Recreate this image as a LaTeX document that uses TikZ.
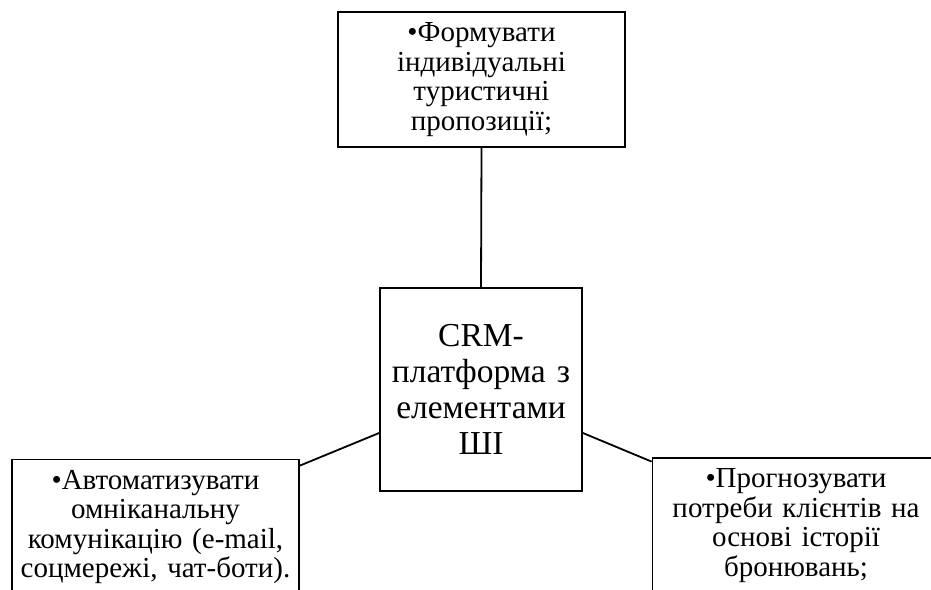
\documentclass[tikz,border=0pt]{standalone}
\usepackage{fontspec}
\setmainfont{Liberation Serif}
\usetikzlibrary{calc}
\tikzset{
  boxsmall/.style={draw=black, line width=1.8pt, minimum width=287pt, minimum height=135pt,
    text width=280pt, align=center, inner sep=0pt, font=\fontsize{29}{29.6}\selectfont},
  boxbig/.style={draw=black, line width=1.8pt, minimum width=202pt, minimum height=203pt,
    text width=198pt, align=center, inner sep=0pt, font=\fontsize{33.5}{36}\selectfont},
  link/.style={draw=black, line width=1.8pt}
}
\begin{document}
\begin{tikzpicture}[x=1pt,y=-1pt]
\useasboundingbox (0,0) rectangle (931,589);
\clip (0,0) rectangle (931,589);
\fill[white] (0,0) rectangle (931,589);
\node[boxsmall] (top) at (481.5,79.5) {•Формувати\\індивідуальні\\туристичні\\пропозиції;};
\node[boxbig] (crm) at (481,389.5) {CRM-\\платформа з\\елементами\\ШІ};
\node[boxsmall] (left) at (155.5,527) {•Автоматизувати\\омніканальну\\комунікацію (e-mail,\\соцмережі, чат-боти).};
\node[boxsmall] (right) at (796,525.5) {•Прогнозувати\\потреби клієнтів на\\основі історії\\бронювань;};
\draw[link] (top.south) -- (crm.north);
\draw[link] ($(left.north east)+(0,7)$) -- ($(crm.west)+(0,43.5)$);
\draw[link] ($(crm.east)+(0,43.5)$) -- ($(right.north west)+(0,4.5)$);
\end{tikzpicture}
\end{document}
